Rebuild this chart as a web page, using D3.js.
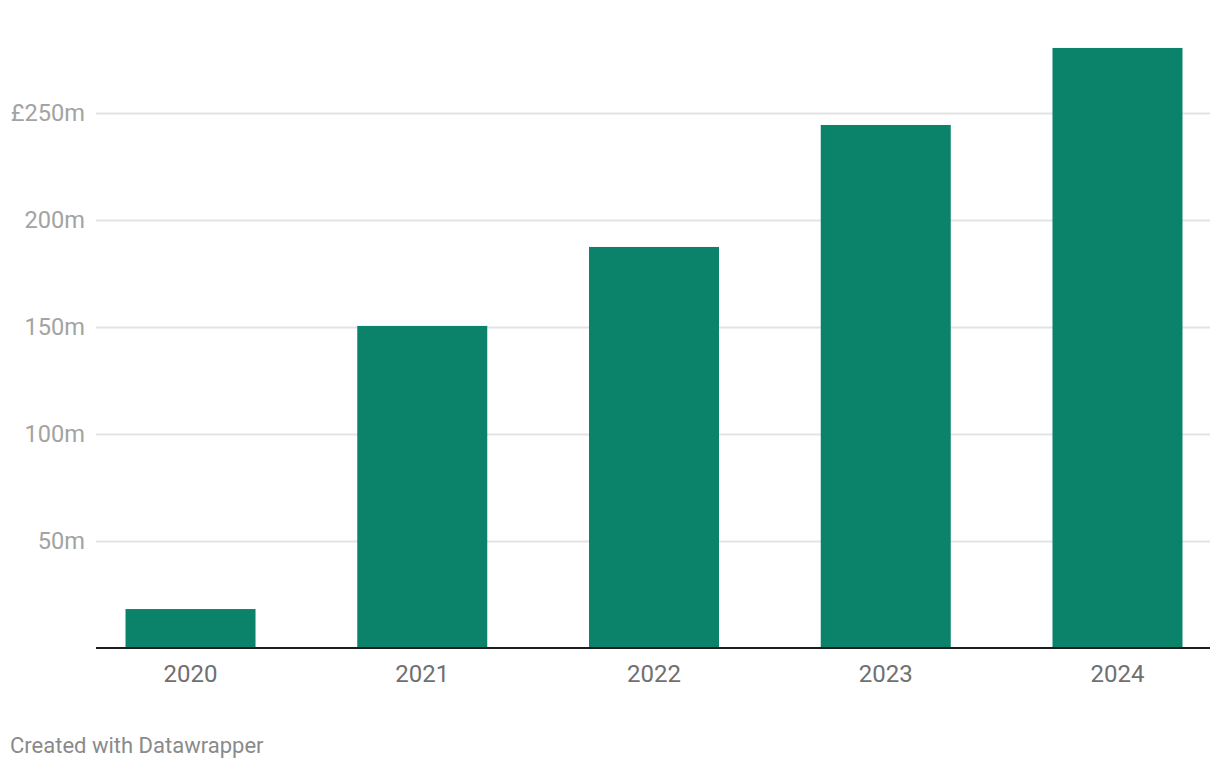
<!DOCTYPE html>
<html><head><meta charset="utf-8">
<script src="https://cdn.jsdelivr.net/npm/d3@7/dist/d3.min.js"></script>
<style>
html,body{margin:0;padding:0;background:#fff;}
svg{display:block;font-family:Roboto,"Noto Sans",sans-serif;}
</style></head>
<body><svg id="c" width="1220" height="770"></svg>
<script>
const categories = ["2020","2021","2022","2023","2024"];
const values = [18.2, 150.5, 187.4, 244.4, 280.4];
const yTicks = [50,100,150,200,250];
const yTickLabels = ["50m","100m","150m","200m","£250m"];

const svg = d3.select("#c");
const x = d3.scaleBand().domain(categories).range([97,1211]).paddingInner(0.439).paddingOuter(0.123);
const y = d3.scaleLinear().domain([0,250]).range([648,113]);

// gridlines
svg.append("g").selectAll("line").data(yTicks).join("line")
  .attr("x1",96).attr("x2",1210)
  .attr("y1",d=>y(d)+0.5).attr("y2",d=>y(d)+0.5)
  .attr("stroke","#e3e3e3").attr("stroke-width",2);

// y labels
svg.append("g").selectAll("text").data(yTicks).join("text")
  .attr("x",85).attr("y",d=>y(d)).attr("dy","0.35em")
  .attr("text-anchor","end").attr("font-size",23.6).attr("fill","#a3a3a3")
  .text((d,i)=>yTickLabels[i]);

// bars
svg.append("g").selectAll("rect").data(values).join("rect")
  .attr("x",(d,i)=>x(categories[i])).attr("width",x.bandwidth())
  .attr("y",d=>y(d)).attr("height",d=>y(0)-y(d))
  .attr("fill","#0b826a");

// baseline
svg.append("line").attr("x1",96).attr("x2",1210).attr("y1",648).attr("y2",648)
  .attr("stroke","#1d1d1d").attr("stroke-width",2);

// x labels
svg.append("g").selectAll("text").data(categories).join("text")
  .attr("x",d=>x(d)+x.bandwidth()/2).attr("y",682)
  .attr("text-anchor","middle").attr("font-size",24).attr("fill","#707070")
  .text(d=>d);

svg.append("text").attr("x",10).attr("y",753).attr("font-size",22).attr("fill","#8a8a8a")
  .text("Created with Datawrapper");
</script></body></html>
